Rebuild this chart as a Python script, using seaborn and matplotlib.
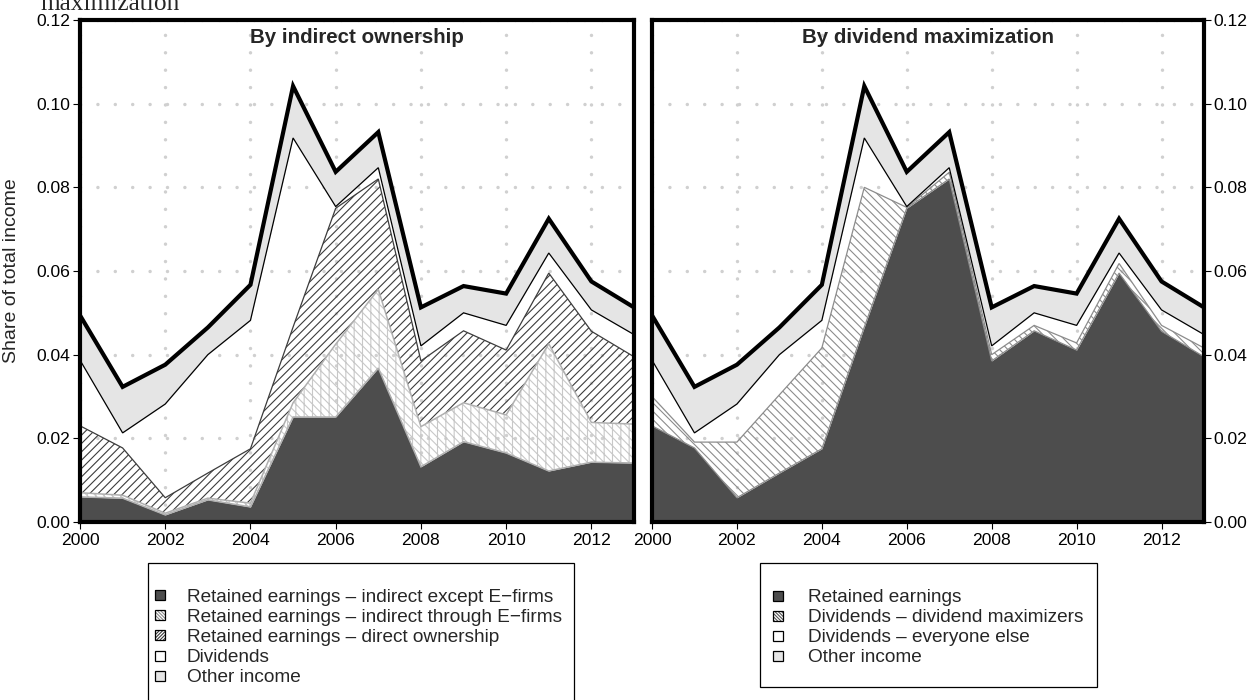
import matplotlib
matplotlib.use("Agg")
import matplotlib.pyplot as plt
import numpy as np
import seaborn as sns
from matplotlib.patches import Rectangle

# Income components as shares of total income, 2000-2013
years = list(range(2000, 2014))
ret_indirect_other = [0.0060, 0.0057, 0.0017, 0.0053, 0.0036, 0.0251, 0.0251,
                      0.0368, 0.0132, 0.0192, 0.0165, 0.0122, 0.0143, 0.0141]
ret_indirect_efirms = [0.0010, 0.0007, 0.0004, 0.0004, 0.0009, 0.0034, 0.0174,
                       0.0188, 0.0096, 0.0093, 0.0091, 0.0304, 0.0095, 0.0093]
ret_direct = [0.0160, 0.0113, 0.0037, 0.0060, 0.0130, 0.0181, 0.0325,
              0.0264, 0.0157, 0.0172, 0.0155, 0.0169, 0.0218, 0.0161]
div_maximizers = [0.0070, 0.0014, 0.0133, 0.0187, 0.0241, 0.0334, 0.0002,
                  0.0016, 0.0015, 0.0013, 0.0017, 0.0023, 0.0014, 0.0021]
div_others = [0.0087, 0.0022, 0.0091, 0.0096, 0.0066, 0.0118, 0.0002,
              0.0011, 0.0021, 0.0030, 0.0042, 0.0025, 0.0037, 0.0032]
other_income = [0.0107, 0.0110, 0.0094, 0.0065, 0.0085, 0.0124, 0.0083,
                0.0085, 0.0092, 0.0064, 0.0076, 0.0082, 0.0068, 0.0065]

x_ticks = [2000, 2002, 2004, 2006, 2008, 2010, 2012]
y_ticks = [0.00, 0.02, 0.04, 0.06, 0.08, 0.10, 0.12]
y_tick_labels = ["0.00", "0.02", "0.04", "0.06", "0.08", "0.10", "0.12"]

left_labels = ["Retained earnings \u2013 indirect except E\u2212firms",
               "Retained earnings \u2013 indirect through E\u2212firms",
               "Retained earnings \u2013 direct ownership",
               "Dividends",
               "Other income"]
right_labels = ["Retained earnings",
                "Dividends \u2013 dividend maximizers",
                "Dividends \u2013 everyone else",
                "Other income"]

sns.set_theme(style="white")
plt.rcParams["font.family"] = ["Liberation Sans", "DejaVu Sans"]
plt.rcParams["hatch.linewidth"] = 0.8
FS_TICK = 12.6
FS_KEY = 13.7
FS_LAB = 14
FS_TITLE = 14.8

DARK = "#4d4d4d"
LIGHT = "#e5e5e5"

# band styles: face, hatch (plot / key), hatch colours, top-line colour, top-line width
style_dark = dict(face=DARK, hatch=None, khatch=None, hcol=None, kcol=None,
                  line="#b0b0b0", lw=1.1)
style_efirm = dict(face="none", hatch="\\\\\\\\||", khatch="\\" * 10,
                   hcol="#c8c8c8", kcol="#8a8a8a", line="#b0b0b0", lw=1.1)
style_direct = dict(face="none", hatch="////", khatch="/" * 10,
                    hcol="#3c3c3c", kcol="#3c3c3c", line="#3c3c3c", lw=0.9)
style_div = dict(face="none", hatch=None, khatch=None, hcol=None, kcol=None,
                 line="black", lw=0.9)
style_other = dict(face=LIGHT, hatch=None, khatch=None, hcol=None, kcol=None,
                   line="black", lw=3.0)
style_ret = dict(face=DARK, hatch=None, khatch=None, hcol=None, kcol=None,
                 line="#8c8c8c", lw=0.9)
style_max = dict(face="none", hatch="\\\\\\\\", khatch="\\" * 10,
                 hcol="#8c8c8c", kcol="#555555", line="#8c8c8c", lw=0.9)

fig = plt.figure(figsize=(12.6, 7), dpi=100)
W, H = 1260.0, 700.0
ax_l = fig.add_axes([80 / W, 178 / H, 554 / W, 502 / H])
ax_r = fig.add_axes([652 / W, 178 / H, 552 / W, 502 / H])


def stacked(ax, bands):
    x = np.array(years, dtype=float)
    bottom = np.zeros(len(years))
    tops = []
    for vals, st in bands:
        top = bottom + np.array(vals)
        if st["hatch"]:
            ax.fill_between(x, bottom, top, facecolor="none", edgecolor=st["hcol"],
                            hatch=st["hatch"], linewidth=0, zorder=1)
        elif st["face"] != "none":
            ax.fill_between(x, bottom, top, facecolor=st["face"], linewidth=0, zorder=1)
        tops.append((top, st))
        bottom = top
    for i, (top, st) in enumerate(tops):
        sns.lineplot(x=x, y=top, ax=ax, color=st["line"], linewidth=st["lw"],
                     zorder=3 + i, legend=False, solid_joinstyle="miter")


ret_total = [a + b + c for a, b, c in zip(ret_indirect_other, ret_indirect_efirms, ret_direct)]
dividends = [a + b for a, b in zip(div_maximizers, div_others)]

stacked(ax_l, [(ret_indirect_other, style_dark), (ret_indirect_efirms, style_efirm),
               (ret_direct, style_direct), (dividends, style_div),
               (other_income, style_other)])
stacked(ax_r, [(ret_total, style_ret), (div_maximizers, style_max),
               (div_others, style_div), (other_income, style_other)])

for ax, title in [(ax_l, "By indirect ownership"), (ax_r, "By dividend maximization")]:
    ax.set_xlim(2000, 2013)
    ax.set_ylim(0, 0.12)
    ax.set_xticks(x_ticks)
    ax.set_xticklabels([str(t) for t in x_ticks])
    ax.set_yticks(y_ticks)
    ax.set_yticklabels(y_tick_labels)
    ax.set_xlabel("")
    ax.set_ylabel("")
    ax.set_axisbelow(True)
    ax.grid(True, color="#d0d0d0", linestyle=(0, (0.01, 5.0)), linewidth=2.5,
            dash_capstyle="round")
    for sp in ax.spines.values():
        sp.set_visible(True)
        sp.set_color("black")
        sp.set_linewidth(3.0)
        sp.set_zorder(10)
    ax.tick_params(axis="both", direction="out", length=5, width=0.8, color="black",
                   labelsize=FS_TICK, pad=2, labelcolor="black")
    ax.tick_params(axis="x", bottom=True, top=False, pad=3)
    ax.text(0.5, 1 - 18 / 502, title, transform=ax.transAxes, ha="center", va="center",
            fontsize=FS_TITLE, fontweight="bold", zorder=20)

ax_l.tick_params(axis="y", left=True, right=False, labelleft=True, labelright=False)
ax_r.tick_params(axis="y", left=False, right=True, labelleft=False, labelright=True)

fig.text(12 / W, 1 - 271 / H, "Share of total income", rotation=90, ha="center",
         va="center", fontsize=FS_LAB)
fig.text(40 / W, 1 - 10.5 / H, "maximization", ha="left", va="baseline",
         fontsize=18.3, family="Liberation Serif")


def key(box, entries):
    x0, y0, x1, y1, sq_x, txt_x, first_y, step = box
    fig.patches.append(Rectangle((x0 / W, 1 - y1 / H), (x1 - x0) / W, (y1 - y0) / H,
                                 transform=fig.transFigure, facecolor="white",
                                 edgecolor="black", linewidth=0.9))
    for i, (label, st) in enumerate(entries):
        yc = first_y + i * step
        r = (sq_x / W, 1 - (yc + 5) / H)
        w, h = 10 / W, 10 / H
        face = st["face"] if st["face"] != "none" else "white"
        fig.patches.append(Rectangle(r, w, h, transform=fig.transFigure,
                                     facecolor=face, edgecolor="none", linewidth=0))
        if st["khatch"]:
            fig.patches.append(Rectangle(r, w, h, transform=fig.transFigure,
                                         facecolor="none", edgecolor=st["kcol"],
                                         hatch=st["khatch"], linewidth=0))
        fig.patches.append(Rectangle(r, w, h, transform=fig.transFigure,
                                     facecolor="none", edgecolor="black", linewidth=0.9))
        fig.text(txt_x / W, 1 - yc / H, label, ha="left", va="center_baseline",
                 fontsize=FS_KEY)


key((148, 563, 574, 705, 155, 187, 595, 20.2),
    list(zip(left_labels, [style_dark, style_efirm, style_direct, style_div, style_other])))
key((760, 563, 1097, 687, 773, 808, 596, 20.0),
    list(zip(right_labels, [style_ret, style_max, style_div, style_other])))

fig.savefig("out.png", dpi=100, facecolor="white")
